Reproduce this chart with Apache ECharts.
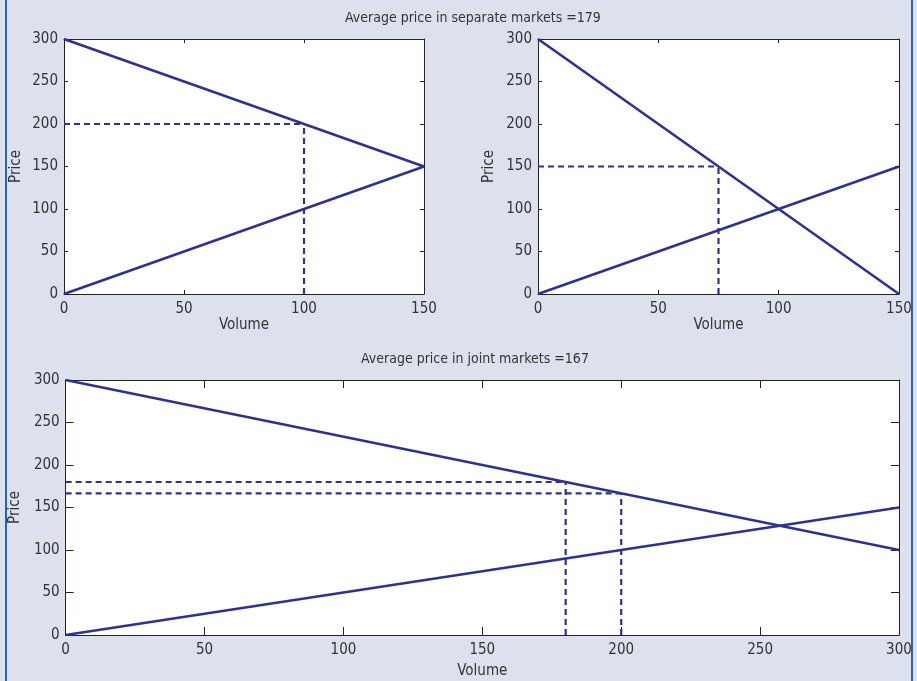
<!DOCTYPE html>
<html>
<head>
<meta charset="utf-8">
<style>
html,body{margin:0;padding:0;background:#dde1ee;}
#c{width:917px;height:681px;}
</style>
<script src="https://cdn.jsdelivr.net/npm/echarts@6/dist/echarts.min.js"></script>
</head>
<body>
<div id="c"></div>
<script>
// ---- data ----
const titleSeparate = 'Average price in separate markets =179';
const titleJoint = 'Average price in joint markets =167';
const xName = 'Volume';
const yName = 'Price';

// market 1 (top left)
const m1Demand = [[0, 300], [150, 150]];
const m1Supply = [[0, 0], [150, 150]];
const m1DashH = [[0, 200], [100, 200]];
const m1DashV = [[100, 0], [100, 200]];

// market 2 (top right)
const m2Demand = [[0, 300], [150, 0]];
const m2Supply = [[0, 0], [150, 150]];
const m2DashH = [[0, 150], [75, 150]];
const m2DashV = [[75, 0], [75, 150]];

// joint market (bottom)
const jDemand = [[0, 300], [300, 100]];
const jSupply = [[0, 0], [300, 150]];
const jDashH1 = [[0, 180], [180, 180]];
const jDashV1 = [[180, 0], [180, 180]];
const jDashH2 = [[0, 166.7], [200, 166.7]];
const jDashV2 = [[200, 0], [200, 166.7]];

const xMaxTop = 150, xMaxBottom = 300, yMax = 300, tickStep = 50;

// ---- styles ----
const FONT = "'DejaVu Sans Condensed','Liberation Sans Narrow',sans-serif";
const LINE = '#2d3192';
const TXT = '#333333';
const AX = '#222222';

function xAxes(gi, max, tickLen, nameGap) {
  return [
    {
      type: 'value', gridIndex: gi, min: 0, max: max, interval: tickStep, position: 'bottom',
      name: xName, nameLocation: 'middle', nameGap: nameGap,
      nameTextStyle: {fontFamily: FONT, fontSize: 15, color: TXT},
      axisLine: {show: true, onZero: false, lineStyle: {color: AX, width: 1}},
      axisTick: {show: true, inside: true, length: tickLen, lineStyle: {color: AX}},
      axisLabel: {fontFamily: FONT, fontSize: 15, color: TXT, margin: 8},
      splitLine: {show: false}
    },
    {
      type: 'value', gridIndex: gi, min: 0, max: max, interval: tickStep, position: 'top',
      axisLine: {show: true, onZero: false, lineStyle: {color: AX, width: 1}},
      axisTick: {show: true, inside: true, length: tickLen, lineStyle: {color: AX}},
      axisLabel: {show: false}, splitLine: {show: false}
    }
  ];
}
function yAxes(gi, tickLen, nameGap) {
  return [
    {
      type: 'value', gridIndex: gi, min: 0, max: yMax, interval: tickStep, position: 'left',
      name: yName, nameLocation: 'middle', nameGap: nameGap, nameRotate: 90,
      nameTextStyle: {fontFamily: FONT, fontSize: 15, color: TXT},
      axisLine: {show: true, onZero: false, lineStyle: {color: AX, width: 1}},
      axisTick: {show: true, inside: true, length: tickLen, lineStyle: {color: AX}},
      axisLabel: {fontFamily: FONT, fontSize: 15, color: TXT, margin: 6},
      splitLine: {show: false}
    },
    {
      type: 'value', gridIndex: gi, min: 0, max: yMax, interval: tickStep, position: 'right',
      axisLine: {show: true, onZero: false, lineStyle: {color: AX, width: 1}},
      axisTick: {show: true, inside: true, length: tickLen, lineStyle: {color: AX}},
      axisLabel: {show: false}, splitLine: {show: false}
    }
  ];
}
function solid(data, xi, yi) {
  return {type: 'line', data: data, xAxisIndex: xi, yAxisIndex: yi, symbol: 'none',
    lineStyle: {color: LINE, width: 2.6}, silent: true, z: 3};
}
function dashed(data, xi, yi) {
  return {type: 'line', data: data, xAxisIndex: xi, yAxisIndex: yi, symbol: 'none',
    lineStyle: {color: LINE, width: 2.2, type: [6, 4]}, silent: true, z: 2};
}

const chart = echarts.init(document.getElementById('c'), null, {renderer: 'canvas'});
chart.setOption({
  animation: false,
  backgroundColor: '#dde1ee',
  title: [
    {text: titleSeparate, left: 340, top: 6, textStyle: {fontFamily: FONT, fontSize: 14, fontWeight: 'normal', color: TXT}},
    {text: titleJoint, left: 356, top: 347, textStyle: {fontFamily: FONT, fontSize: 14, fontWeight: 'normal', color: TXT}}
  ],
  graphic: [
    {type: 'rect', shape: {x: 5, y: 0, width: 2, height: 681}, style: {fill: '#2a62b3'}},
    {type: 'rect', shape: {x: 911, y: 0, width: 2, height: 681}, style: {fill: '#2a62b3'}}
  ],
  grid: [
    {left: 64, top: 39, width: 360, height: 255, show: true, backgroundColor: '#ffffff', borderWidth: 0},
    {left: 538, top: 39, width: 361, height: 255, show: true, backgroundColor: '#ffffff', borderWidth: 0},
    {left: 64, top: 380, width: 835, height: 255, show: true, backgroundColor: '#ffffff', borderWidth: 0}
  ],
  xAxis: [].concat(xAxes(0, xMaxTop, 4, 24), xAxes(1, xMaxTop, 4, 24), xAxes(2, xMaxBottom, 8, 29)),
  yAxis: [].concat(yAxes(0, 4, 40), yAxes(1, 4, 41), yAxes(2, 8, 41)),
  series: [
    solid(m1Demand, 0, 0), solid(m1Supply, 0, 0), dashed(m1DashH, 0, 0), dashed(m1DashV, 0, 0),
    solid(m2Demand, 2, 2), solid(m2Supply, 2, 2), dashed(m2DashH, 2, 2), dashed(m2DashV, 2, 2),
    solid(jDemand, 4, 4), solid(jSupply, 4, 4),
    dashed(jDashH1, 4, 4), dashed(jDashV1, 4, 4), dashed(jDashH2, 4, 4), dashed(jDashV2, 4, 4)
  ]
});
</script>
</body>
</html>
